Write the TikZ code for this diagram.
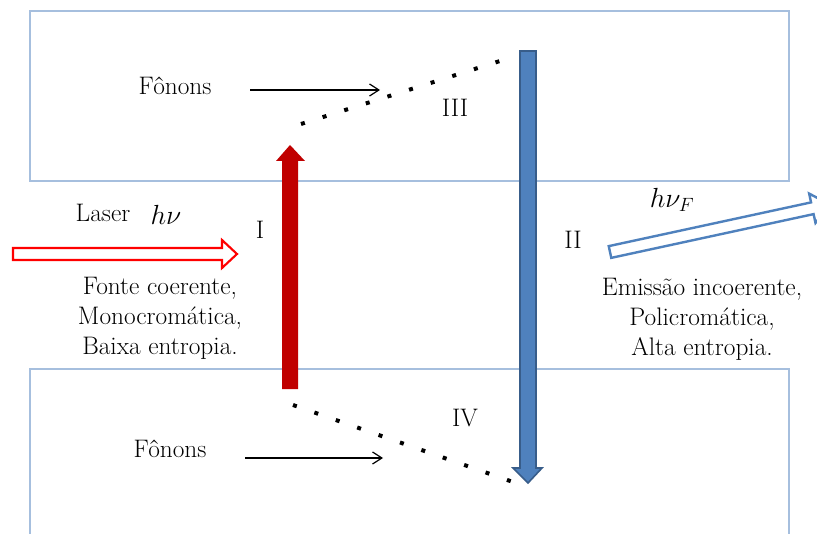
\documentclass[tikz,border=0pt]{standalone}
\usetikzlibrary{arrows.meta,positioning}
\definecolor{darkred}{RGB}{192,0,0}
\definecolor{laserred}{RGB}{255,0,0}
\definecolor{steelblue}{RGB}{79,129,189}
\definecolor{steelborder}{RGB}{56,93,138}
\definecolor{boxline}{RGB}{166,191,222}

\begin{document}
\begin{tikzpicture}[
    x=0.75pt, y=-0.75pt,
    level/.style={draw=boxline, line width=0.9pt},
    txt/.style={font=\fontsize{19}{22.5}\selectfont, inner sep=0pt},
    note/.style={txt, align=center},
    mathlbl/.style={font=\fontsize{22}{26}\selectfont, inner sep=0pt},
    phonon/.style={-{Straight Barb[length=7pt,width=9pt]}, line width=0.9pt},
    relax/.style={line width=3pt, dash pattern=on 3pt off 14pt},
    pump/.style={fill=darkred},
    decay/.style={fill=steelblue, draw=steelborder, line width=1.2pt},
    laserbeam/.style={draw=laserred, fill=white, line width=1.6pt},
    emission/.style={draw=steelblue, fill=white, line width=1.8pt}
]

\clip (0,0) rectangle (817,534);
\fill[white] (0,0) rectangle (817,534);

% ------------------ Levels ------------------
\draw[level] (30,11) rectangle (789,181);
\draw[level] (30,369) rectangle (789,560);

% ------------------ Pump and decay ------------------
\fill[pump] (282,389) -- (282,161) -- (276,161) -- (290,145) -- (305,161) -- (298,161) -- (298,389) -- cycle;
\draw[decay] (520,51) -- (536,51) -- (536,468) -- (542,468) -- (528,483) -- (513,468) -- (520,468) -- cycle;

% ------------------ Incoming laser ------------------
\draw[laserbeam] (13,248) -- (222,248) -- (222,240) -- (237,254) -- (222,268) -- (222,260) -- (13,260) -- cycle;

% ------------------ Emitted light ------------------
\begin{scope}[shift={(610,252)}, rotate=12.2]
    \draw[emission] (0,-6) -- (207,-6) -- (207,-15) -- (225,0) -- (207,15) -- (207,6) -- (0,6) -- cycle;
\end{scope}

% ------------------ Non-radiative steps ------------------
\coordinate (upA) at (301,124);
\coordinate (upB) at (500,61);
\coordinate (lowA) at (293,405);
\coordinate (lowB) at (513,482);
\draw[relax] (upA) -- (upB);
\draw[relax] (lowA) -- (lowB);

% ------------------ Phonons ------------------
\node[txt] (fonons1) at (175,86) {Fônons};
\node[txt] (fonons2) at (170,449) {Fônons};
\coordinate (ph1a) at (250,90);
\coordinate (ph1b) at (380,90);
\coordinate (ph2a) at (245,458);
\coordinate (ph2b) at (383,458);
\draw[phonon] (ph1a) -- (ph1b);
\draw[phonon] (ph2a) -- (ph2b);

% ------------------ Labels ------------------
\node[txt] (lblI) at (260,230) {I};
\node[txt] (lblII) at (573,240) {II};
\node[txt] (lblIII) at (455,108) {III};
\node[txt] (lblIV) at (465,418) {IV};

\node[txt] (laser) at (103,213) {Laser};
\node[mathlbl] (hnu) at (166,215) {$h\nu$};
\node[mathlbl] (hnuF) at (672,200) {$h\nu_F$};

\node[note] (coherent) at (160,318) {Fonte coerente,\\Monocromática,\\Baixa entropia.};
\node[note] (incoherent) at (702,319) {Emissão incoerente,\\Policromática,\\Alta entropia.};

\end{tikzpicture}
\end{document}
